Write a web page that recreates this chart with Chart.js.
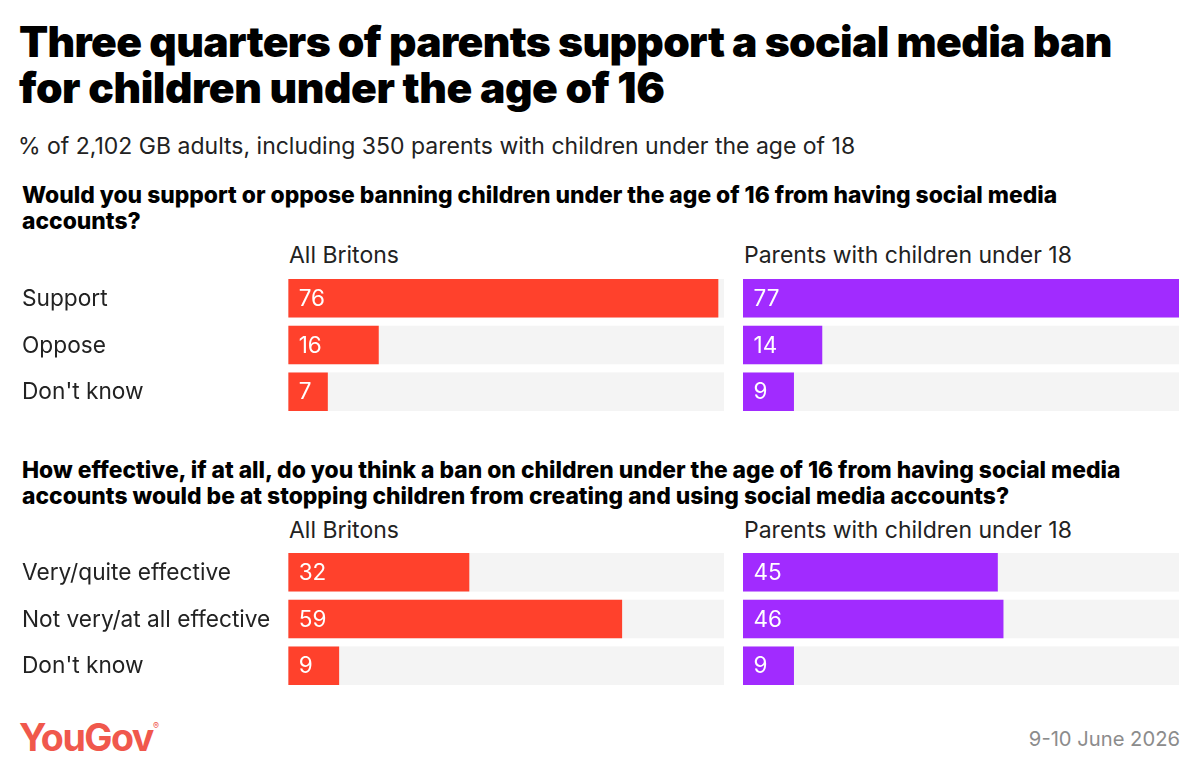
<!DOCTYPE html>
<html>
<head>
<meta charset="utf-8">
<script src="https://cdn.jsdelivr.net/npm/chart.js@4/dist/chart.umd.min.js"></script>
<style>
  html, body { margin: 0; padding: 0; background: #fff; overflow: hidden; }
  body { width: 1200px; height: 778px; position: relative; font-family: Inter, sans-serif; color: #000; }
  .txt { position: absolute; white-space: nowrap; }
  .title { left: 19px; font-size: 42.6px; font-weight: 900; line-height: 46px; }
  .sub { left: 18px; top: 132px; font-size: 23px; line-height: 28px; color: #222; }
  .question { left: 22px; font-size: 22.85px; font-weight: 800; line-height: 26px; }
  .head { font-size: 23px; line-height: 28px; color: #222; }
  .logo { left: 19px; top: 717px; font-size: 37.6px; font-weight: 700; line-height: 42px; letter-spacing: -1.5px; color: #f0584c; }
  .logo sup { font-size: 9px; font-weight: 400; letter-spacing: 0; vertical-align: 22px; line-height: 0; }
  .date { right: 20px; top: 725px; font-size: 20.2px; line-height: 28px; color: #8c8c8c; }
  canvas { position: absolute; display: block; }
</style>
</head>
<body>
<div class="txt title" style="top:19px;letter-spacing:-0.65px">Three quarters of parents support a social media ban</div>
<div class="txt title" style="top:65px;letter-spacing:-0.43px">for children under the age of 16</div>
<div class="txt sub">% of 2,102 GB adults, including 350 parents with children under the age of 18</div>

<div class="txt question" style="top:182px">Would you support or oppose banning children under the age of 16 from having social media</div>
<div class="txt question" style="top:208px">accounts?</div>
<div class="txt head" style="left:289px;top:241px">All Britons</div>
<div class="txt head" style="left:744px;top:241px">Parents with children under 18</div>

<div class="txt question" style="top:457px">How effective, if at all, do you think a ban on children under the age of 16 from having social media</div>
<div class="txt question" style="top:483px">accounts would be at stopping children from creating and using social media accounts?</div>
<div class="txt head" style="left:289px;top:516px">All Britons</div>
<div class="txt head" style="left:744px;top:516px">Parents with children under 18</div>

<canvas id="supportAll" width="724" height="140" style="left:0;top:275px"></canvas>
<canvas id="supportParents" width="436" height="140" style="left:743px;top:275px"></canvas>
<canvas id="effectAll" width="724" height="140" style="left:0;top:549px"></canvas>
<canvas id="effectParents" width="436" height="140" style="left:743px;top:549px"></canvas>

<div class="txt logo">YouGov<sup>®</sup></div>
<div class="txt date">9-10 June 2026</div>

<script>
const supportLabels = ['Support', 'Oppose', "Don't know"];
const effectLabels = ['Very/quite effective', 'Not very/at all effective', "Don't know"];
const supportAllValues = [76, 16, 7];
const supportParentValues = [77, 14, 9];
const effectAllValues = [32, 59, 9];
const effectParentValues = [45, 46, 9];
const axisMax = 77;

const RED = '#ff412c';
const PURPLE = '#a12bff';
const TRACK = '#f4f4f4';

// grey track behind each bar, taken from the bar's own position
const trackPlugin = {
    id: 'track',
    beforeDatasetsDraw(chart) {
        const ctx = chart.ctx;
        const area = chart.chartArea;
        ctx.save();
        ctx.fillStyle = TRACK;
        chart.getDatasetMeta(0).data.forEach(function(bar) {
            ctx.fillRect(area.left, bar.y - bar.height / 2, area.right - area.left, bar.height);
        });
        ctx.restore();
    }
};

// value written inside the start of each bar
const valuePlugin = {
    id: 'values',
    afterDatasetsDraw(chart) {
        const ctx = chart.ctx;
        const values = chart.data.datasets[0].data;
        ctx.save();
        ctx.fillStyle = '#fff';
        ctx.font = '22.5px Inter';
        ctx.textAlign = 'left';
        ctx.textBaseline = 'middle';
        chart.getDatasetMeta(0).data.forEach(function(bar, i) {
            ctx.fillText(values[i], bar.base + 10.5, bar.y + 1);
        });
        ctx.restore();
    }
};

function drawBars(id, labels, values, color, showLabels) {
    new Chart(document.getElementById(id), {
        type: 'bar',
        data: {
            labels: labels,
            datasets: [{
                data: values,
                backgroundColor: color,
                borderWidth: 0,
                barPercentage: 0.825,
                categoryPercentage: 1
            }]
        },
        options: {
            indexAxis: 'y',
            responsive: false,
            animation: false,
            layout: { autoPadding: false, padding: { left: showLabels ? 22 : 0 } },
            plugins: { legend: { display: false }, tooltip: { enabled: false } },
            scales: {
                x: { display: false, min: 0, max: axisMax },
                y: {
                    display: showLabels,
                    grid: { display: false },
                    border: { display: false },
                    ticks: {
                        crossAlign: 'far',
                        color: '#222',
                        font: { family: 'Inter', size: 22.7 },
                        padding: 0,
                        labelOffset: 1
                    },
                    afterFit(scale) {
                        scale.width = showLabels ? 266.2 : 0;
                        // no room reserved for the first and last label
                        scale.paddingTop = 0;
                        scale.paddingBottom = 0;
                    }
                }
            }
        },
        plugins: [trackPlugin, valuePlugin]
    });
}

drawBars('supportAll', supportLabels, supportAllValues, RED, true);
drawBars('supportParents', supportLabels, supportParentValues, PURPLE, false);
drawBars('effectAll', effectLabels, effectAllValues, RED, true);
drawBars('effectParents', effectLabels, effectParentValues, PURPLE, false);
</script>
</body>
</html>
